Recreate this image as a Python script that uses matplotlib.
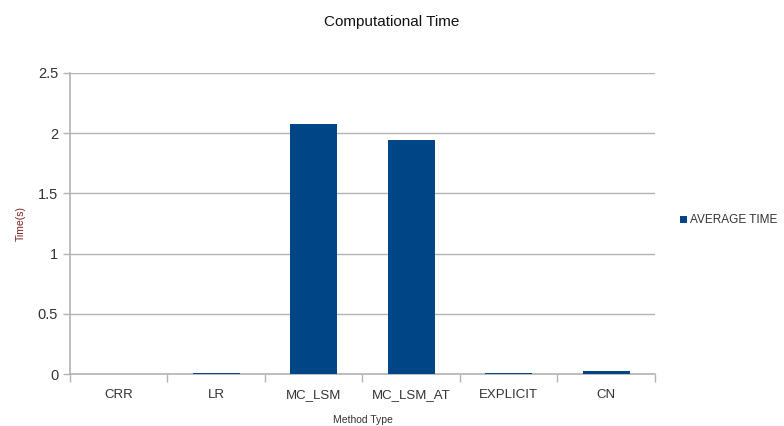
import matplotlib.pyplot as plt
import numpy as np

plt.rcParams['font.family'] = ['Liberation Sans', 'DejaVu Sans']

methods = ["CRR", "LR", "MC_LSM", "MC_LSM_AT", "EXPLICIT", "CN"]
avg_time = [0.001, 0.012, 2.076, 1.94, 0.008, 0.027]

bar_color = "#004586"
grid_color = "#b3b3b3"
text_color = "#333333"

fig = plt.figure(figsize=(7.84, 4.26), dpi=100)
ax = fig.add_axes([0.0893, 0.122, 0.746, 0.707])

x = np.arange(len(methods))
ax.bar(x, avg_time, width=0.48, color=bar_color, label="AVERAGE TIME", zorder=3)

ax.set_xlim(-0.5, len(methods) - 0.5)
ax.set_ylim(0, 2.5)
ax.set_yticks([0, 0.5, 1, 1.5, 2, 2.5])
ax.set_yticklabels(["0", "0.5", "1", "1.5", "2", "2.5"])
ax.grid(axis="y", color=grid_color, linewidth=1, zorder=0)

# category labels at centres, tick marks at the boundaries
ax.set_xticks(x)
ax.set_xticklabels(methods)
ax.set_xticks(np.arange(-0.5, len(methods)), minor=True)
ax.tick_params(axis="x", which="major", length=0, pad=11, labelsize=9.5, colors=text_color)
ax.tick_params(axis="x", which="minor", length=6, color=grid_color, width=1)
ax.tick_params(axis="y", length=5, color=grid_color, width=1, labelsize=10.5, colors=text_color)

for side in ["top", "right"]:
    ax.spines[side].set_visible(False)
for side in ["left", "bottom"]:
    ax.spines[side].set_color(grid_color)
    ax.spines[side].set_linewidth(1.2)

ax.set_xlabel("Method Type", fontsize=7.5, color=text_color)
ax.xaxis.set_label_coords(0.5, -0.135)
ax.set_ylabel("Time(s)", fontsize=7.5, color="#7a1f1f")
ax.yaxis.set_label_coords(-0.075, 0.5)
fig.text(0.5, 0.948, "Computational Time", ha="center", va="center", fontsize=11, color="#111111")

ax.legend(loc="center left", bbox_to_anchor=(1.025, 0.51), frameon=False,
          handlelength=0.55, handleheight=0.6, handletextpad=0.25, fontsize=8.5,
          labelcolor=text_color)

fig.savefig("out.png", dpi=100)
